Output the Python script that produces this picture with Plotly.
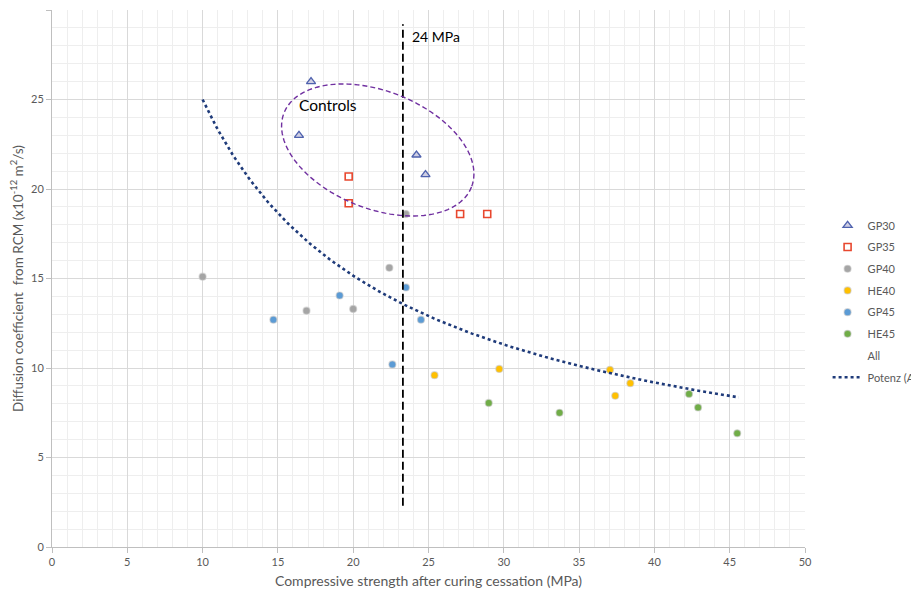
import numpy as np
import plotly.graph_objects as go

# ---- data ----
gp30_x = [17.2, 16.4, 24.2, 24.8]
gp30_y = [26.0, 23.0, 21.9, 20.8]
gp35_x = [19.7, 19.7, 27.1, 28.9]
gp35_y = [20.7, 19.2, 18.6, 18.6]
gp40_x = [10.0, 16.9, 20.0, 22.4, 23.5]
gp40_y = [15.1, 13.2, 13.3, 15.6, 18.6]
he40_x = [25.4, 29.7, 37.05, 37.4, 38.4]
he40_y = [9.6, 9.95, 9.9, 8.45, 9.15]
gp45_x = [14.7, 19.1, 23.5, 24.5, 22.6]
gp45_y = [12.7, 14.05, 14.5, 12.7, 10.2]
he45_x = [29.0, 33.7, 42.3, 42.9, 45.5]
he45_y = [8.05, 7.5, 8.55, 7.8, 6.35]

# power trendline (Potenz): y = a * x^b
trend_a = 131.8
trend_b = -0.722
trend_x_range = [10.0, 45.6]

threshold_x = 23.3
threshold_y = [2.3, 29.2]

all_x = gp30_x + gp35_x + gp40_x + he40_x + gp45_x + he45_x
all_y = gp30_y + gp35_y + gp40_y + he40_y + gp45_y + he45_y

FONT = "Lato"
GREY_TXT = "#595959"

fig = go.Figure()

def circ(name, xs, ys, color):
    fig.add_trace(go.Scatter(
        x=xs, y=ys, mode="markers", name=name, legendgroup=name,
        marker=dict(symbol="circle", size=7, color=color,
                    line=dict(color="rgba(200,200,200,0.6)", width=1.2))))

fig.add_trace(go.Scatter(
    x=gp30_x, y=gp30_y, mode="markers", name="GP30", legendgroup="GP30",
    marker=dict(symbol="triangle-up", size=8, color="#CFCFE3",
                line=dict(color="#4F62AE", width=1.3))))
fig.add_trace(go.Scatter(
    x=gp35_x, y=gp35_y, mode="markers", name="GP35", legendgroup="GP35",
    marker=dict(symbol="square", size=7, color="white",
                line=dict(color="#E8472E", width=1.6))))
circ("GP40", gp40_x, gp40_y, "#A5A5A5")
circ("HE40", he40_x, he40_y, "#FFC000")
circ("GP45", gp45_x, gp45_y, "#5B9BD5")
circ("HE45", he45_x, he45_y, "#70AD47")

# "All" series (no visible marker)
fig.add_trace(go.Scatter(
    x=all_x, y=all_y, mode="markers", name="All", legendgroup="All",
    marker=dict(size=6, color="rgba(0,0,0,0)"), hoverinfo="skip"))

tx = np.linspace(trend_x_range[0], trend_x_range[1], 200)
ty = trend_a * tx ** trend_b
fig.add_trace(go.Scatter(
    x=tx, y=ty, mode="lines", name="Potenz (All)", legendgroup="Potenz",
    line=dict(color="#1F3B7A", width=2.6, dash="dot")))

# threshold line
fig.add_shape(type="line", x0=threshold_x, x1=threshold_x,
              y0=threshold_y[0], y1=threshold_y[1],
              line=dict(color="black", width=1.8, dash="8px,4px"))
fig.add_annotation(x=threshold_x + 0.45, y=28.5, text="24 MPa", showarrow=False,
                   xanchor="left", yanchor="middle",
                   font=dict(family=FONT, size=14, color="black"))

# controls ellipse (pixel-based geometry converted to data units)
px_per_x = 753 / 50.0
px_per_y = 537 / 30.0
cx, cy = 21.63, 22.18
A, B, th = 100.8, 58.7, np.deg2rad(21.6)
t = np.linspace(0, 2 * np.pi, 120)
dxp = A * np.cos(t) * np.cos(th) - B * np.sin(t) * np.sin(th)
dyp = A * np.cos(t) * np.sin(th) + B * np.sin(t) * np.cos(th)
ex = cx + dxp / px_per_x
ey = cy - dyp / px_per_y
path = "M " + " L ".join(f"{a:.4f},{b:.4f}" for a, b in zip(ex, ey)) + " Z"
fig.add_shape(type="path", path=path, xref="x", yref="y",
              line=dict(color="#7030A0", width=1.4, dash="5px,3px"))
fig.add_annotation(x=18.3, y=24.7, text="Controls", showarrow=False,
                   font=dict(family=FONT, size=15.5, color="black"))

axis_common = dict(
    automargin=False,
    showgrid=True, gridcolor="#D9D9D9", gridwidth=1,
    showline=True, linecolor="#BFBFBF", linewidth=1,
    ticks="outside", ticklen=5, tickcolor="#BFBFBF",
    zeroline=False,
    tickfont=dict(family=FONT, size=11, color=GREY_TXT),
)

fig.update_xaxes(range=[0, 50], dtick=5, tick0=0,
                 minor=dict(dtick=1, showgrid=True, gridcolor="#EEEEEE", ticks=""),
                 title=dict(text="Compressive strength after curing cessation (MPa)",
                            font=dict(family=FONT, size=14, color=GREY_TXT), standoff=8),
                 **axis_common)
fig.update_yaxes(range=[0, 30], dtick=5, tick0=0,
                 minor=dict(dtick=1, showgrid=True, gridcolor="#EEEEEE", ticks=""),
                 title=dict(text="Diffusion coefficient  from RCM (x10<sup>-12</sup> m<sup>2</sup>/s)",
                            font=dict(family=FONT, size=13.5, color=GREY_TXT), standoff=6),
                 **axis_common)

# page body has an 8px margin, so the figure is sized/offset to compensate
fig.update_layout(
    width=911, height=586,
    margin=dict(l=44, r=114, t=2, b=47, autoexpand=False),
    plot_bgcolor="white", paper_bgcolor="white",
    font=dict(family=FONT, color=GREY_TXT),
    legend=dict(x=1.03, xanchor="left", y=0.626, yanchor="top",
                font=dict(family=FONT, size=11, color=GREY_TXT),
                bgcolor="rgba(0,0,0,0)", tracegroupgap=2.7),
    showlegend=True,
)

fig.write_html("out.html")
